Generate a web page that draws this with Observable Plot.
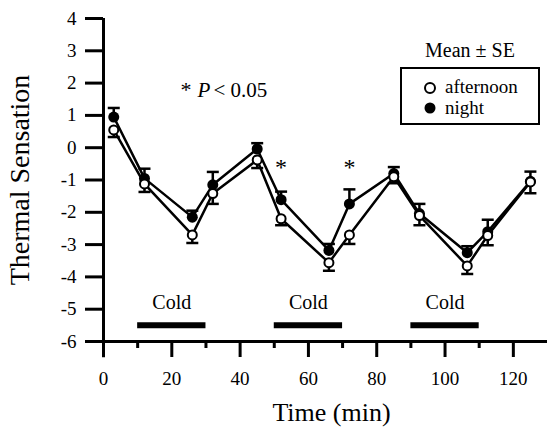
<!DOCTYPE html>
<html>
<head>
<meta charset="utf-8">
<script src="https://cdn.jsdelivr.net/npm/d3@7"></script>
<script src="https://cdn.jsdelivr.net/npm/@observablehq/plot@0.6"></script>
<style>
  body { margin: 0; background: #fff; }
  #wrap { position: relative; width: 547px; height: 429px; font-family: "Liberation Serif", serif; color: #000; }
  .lbl { position: absolute; white-space: nowrap; line-height: 1; }
</style>
</head>
<body>
<div id="wrap">
  <div id="chart"></div>
  <div class="lbl" style="left:425px; top:40px; font-size:20px;">Mean ± SE</div>
  <div id="legend" style="position:absolute; left:400px; top:67px; width:140px; height:58px; border:2px solid #000; box-sizing:border-box;">
    <svg width="20" height="50" style="position:absolute; left:18px; top:0px; overflow:visible">
      <circle cx="10" cy="19" r="5" fill="#fff" stroke="#000" stroke-width="2"></circle>
      <circle cx="10" cy="39" r="5.5" fill="#000"></circle>
    </svg>
    <div class="lbl" style="left:43px; top:8px; font-size:19px;">afternoon</div>
    <div class="lbl" style="left:43px; top:29px; font-size:19px;">night</div>
  </div>
</div>
<script>
// Data
const time        = [3, 12, 26, 32, 45, 52, 66, 72, 85, 92.5, 106.5, 112.5, 125];
const night       = [0.95, -0.95, -2.15, -1.15, -0.04, -1.61, -3.18, -1.74, -0.8, -2.04, -3.25, -2.6, -1.04];
const nightSE     = [0.28, 0.3, 0.2, 0.4, 0.18, 0.25, 0.2, 0.45, 0.2, 0.3, 0.2, 0.37, 0.3];
const afternoon   = [0.55, -1.12, -2.7, -1.42, -0.38, -2.2, -3.56, -2.7, -0.9, -2.1, -3.66, -2.72, -1.06];
const afternoonSE = [0.22, 0.25, 0.25, 0.32, 0.25, 0.2, 0.25, 0.28, 0.2, 0.3, 0.25, 0.3, 0.35];
const sigTimes    = [52, 72];
const coldStart   = [10, 50, 90];
const coldEnd     = [30, 70, 110];
const coldLabel   = ["Cold", "Cold", "Cold"];
const xTicks      = [0, 20, 40, 60, 80, 100, 120];
const xMinorTicks = [10, 30, 50, 70, 90, 110];
const yTicks      = [-6, -5, -4, -3, -2, -1, 0, 1, 2, 3, 4];

const nightData = time.map((t, i) => ({t, v: night[i], se: nightSE[i]}));
const aftData = time.map((t, i) => ({t, v: afternoon[i], se: afternoonSE[i]}));
const cold = coldStart.map((s, i) => ({s, e: coldEnd[i], m: (s + coldEnd[i]) / 2, label: coldLabel[i]}));

const capSymbol = { draw(ctx, size) { const r = Math.sqrt(size / Math.PI); ctx.moveTo(-r, 0); ctx.lineTo(r, 0); } };

const chart = Plot.plot({
  width: 547,
  height: 429,
  marginLeft: 103,
  marginRight: 0,
  marginTop: 18,
  marginBottom: 88,
  x: { domain: [0, 130] },
  y: { domain: [-6, 4] },
  style: { fontFamily: "Liberation Serif", fontSize: "18px", color: "#000", background: "#fff" },
  marks: [
    // axes
    Plot.ruleY([-6], { strokeWidth: 3 }),
    Plot.ruleX([0], { y1: -6.5, y2: 4, strokeWidth: 3 }),
    Plot.axisY(yTicks, { tickSize: 18, tickPadding: 9, strokeWidth: 3, tickFormat: d => String(d), label: null, fontSize: 19 }),
    Plot.axisX(xTicks, { tickSize: 16, tickPadding: 14, strokeWidth: 3, tickFormat: d => String(d), label: null, fontSize: 19 }),
    Plot.axisX(xMinorTicks, { tickSize: 7, strokeWidth: 3, tickFormat: () => "", label: null }),
    Plot.text(["Time (min)"], { frameAnchor: "bottom", textAnchor: "middle", lineAnchor: "bottom", dx: 6, dy: 79, fontSize: 26 }),
    Plot.text(["Thermal Sensation"], { frameAnchor: "left", textAnchor: "middle", lineAnchor: "bottom", rotate: -90, dx: -75, fontSize: 28 }),
    // cold bars
    Plot.ruleY(cold, { x1: "s", x2: "e", y: -5.5, strokeWidth: 6 }),
    Plot.text(cold, { x: "m", y: -5, text: "label", lineAnchor: "bottom", fontSize: 20 }),
    // lines
    Plot.line(aftData, { x: "t", y: "v", strokeWidth: 2.5 }),
    Plot.line(nightData, { x: "t", y: "v", strokeWidth: 2.5 }),
    // error bars
    Plot.ruleX(nightData, { x: "t", y1: "v", y2: d => d.v + d.se, strokeWidth: 2.5 }),
    Plot.dot(nightData, { x: "t", y: d => d.v + d.se, r: 6, symbol: capSymbol, stroke: "#000", strokeWidth: 2.5 }),
    Plot.ruleX(aftData, { x: "t", y1: "v", y2: d => d.v - d.se, strokeWidth: 2.5 }),
    Plot.dot(aftData, { x: "t", y: d => d.v - d.se, r: 6, symbol: capSymbol, stroke: "#000", strokeWidth: 2.5 }),
    // markers
    Plot.dot(nightData, { x: "t", y: "v", r: 5.5, fill: "#000", stroke: "none" }),
    Plot.dot(aftData, { x: "t", y: "v", r: 4.5, fill: "#fff", stroke: "#000", strokeWidth: 2 }),
    // significance
    Plot.text(sigTimes, { x: d => d, y: -0.85, text: () => "*", lineAnchor: "bottom", fontSize: 24 }),
    Plot.text(["*"], { frameAnchor: "top-left", dx: 77, dy: 78, lineAnchor: "bottom", textAnchor: "start", fontSize: 22 }),
    Plot.text(["P"], { frameAnchor: "top-left", dx: 94, dy: 78, lineAnchor: "bottom", textAnchor: "start", fontSize: 21, fontStyle: "italic" }),
    Plot.text(["< 0.05"], { frameAnchor: "top-left", dx: 110, dy: 78, lineAnchor: "bottom", textAnchor: "start", fontSize: 21 })
  ]
});
document.getElementById("chart").appendChild(chart);
</script>
</body>
</html>
